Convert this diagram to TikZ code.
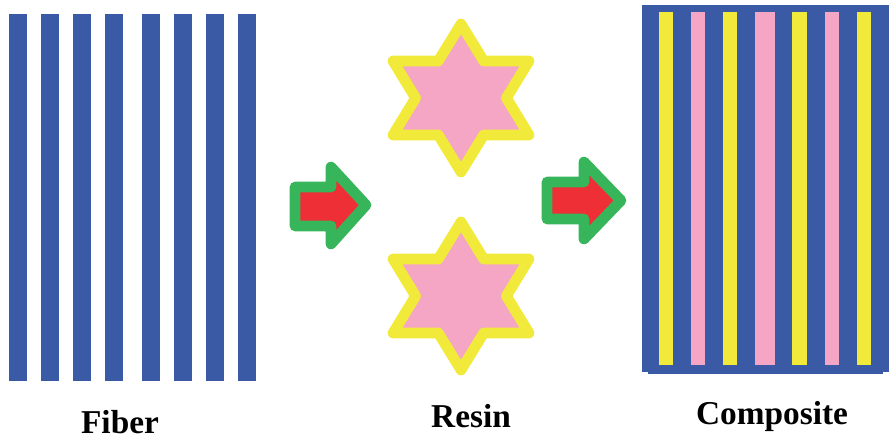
\documentclass[tikz,border=0pt]{standalone}
\usepackage{fontspec}
\setmainfont{Liberation Serif}
\definecolor{fibblue}{HTML}{3A5AA6}
\definecolor{resyellow}{HTML}{F2EA3A}
\definecolor{respink}{HTML}{F4A6C4}
\definecolor{arrgreen}{HTML}{36B55A}
\definecolor{arrred}{HTML}{EE3036}
\tikzset{
  fiberbar/.style={fill=fibblue},
  resinstar/.style={fill=respink, draw=resyellow, line width=8, line join=round},
  blockarrow/.style={fill=arrred, draw=arrgreen, line width=8, line join=round},
  caption/.style={font=\bfseries\fontsize{25}{28}\selectfont, inner sep=0pt}
}
\begin{document}
\begin{tikzpicture}[x=0.75pt, y=-0.75pt]
\useasboundingbox (0,0) rectangle (889,440);

% fibre bundle
\foreach \x in {9,41,73,105,142,174,206,238}
  \fill[fiberbar] (\x,14) rectangle ++(18,367);

% block arrows
\filldraw[blockarrow] (295,187) -- (331,187) -- (331,167) -- (366,205)
  -- (331,244) -- (331,226) -- (295,226) -- cycle;
\filldraw[blockarrow] (547,182) -- (584,182) -- (584,162) -- (621,200.5)
  -- (584,239) -- (584,219) -- (547,219) -- cycle;

% resin stars
\foreach \cy in {98,296}
  \filldraw[resinstar, shift={(461,\cy)}]
    (0,-74) -- (22.7,-37) -- (68,-37) -- (45.4,0) -- (68,37) -- (22.7,37)
    -- (0,74) -- (-22.7,37) -- (-68,37) -- (-45.4,0) -- (-68,-37)
    -- (-22.7,-37) -- cycle;

% composite block
\fill[fibblue] (642,5) rectangle (889,372);
\fill[fibblue] (648,372) rectangle (883,374);
\foreach \a/\b in {659.3/673.3,723.3/737.3,792.3/806.7,856.7/871}
  \fill[resyellow] (\a,12.3) rectangle (\b,365);
\foreach \a/\b in {691/705.3,755.3/774.7,824.7/839}
  \fill[respink] (\a,12.3) rectangle (\b,365);

% captions
\node[caption] (fiber) at (120,422) {Fiber};
\node[caption] (resin) at (471,416) {Resin};
\node[caption] (composite) at (772,416) {Composite};
\end{tikzpicture}
\end{document}
